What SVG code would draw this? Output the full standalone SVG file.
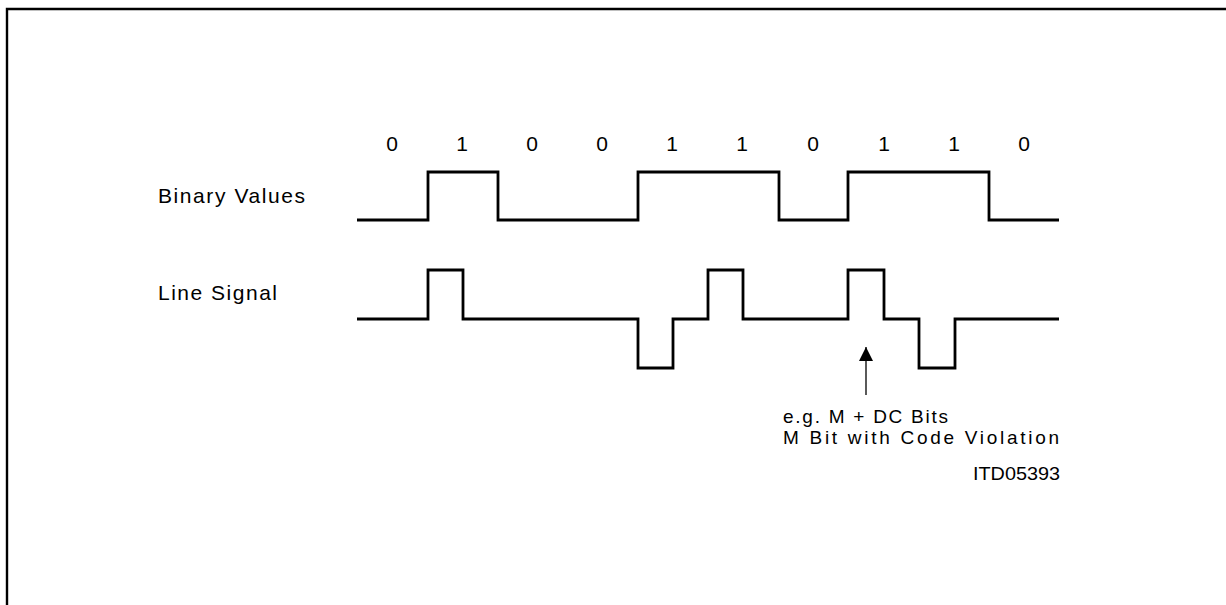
<svg xmlns="http://www.w3.org/2000/svg" width="1226" height="605" viewBox="0 0 1226 605">
<style>
.t{font-family:"Liberation Sans",Arial,sans-serif;font-size:21px;fill:#000}
.n{font-size:19px}
.d{text-anchor:middle}
.w{fill:none;stroke:#000;stroke-width:2.8;stroke-linejoin:miter;stroke-linecap:butt}
</style>
<defs>
<marker id="ah" viewBox="0 0 14 14" refX="14" refY="7" markerWidth="14" markerHeight="14" markerUnits="userSpaceOnUse" orient="auto">
<path d="M0,0 L14,7 L0,14 Z" fill="#000"/>
</marker>
</defs>
<rect width="1226" height="605" fill="#fff"/>
<path id="frame" d="M7,606 V9 H1227" fill="none" stroke="#000" stroke-width="2.4"/>
<g id="bits">
<text class="t d" x="392" y="151">0</text>
<text class="t d" x="462" y="151">1</text>
<text class="t d" x="532" y="151">0</text>
<text class="t d" x="602" y="151">0</text>
<text class="t d" x="672" y="151">1</text>
<text class="t d" x="742" y="151">1</text>
<text class="t d" x="813" y="151">0</text>
<text class="t d" x="884" y="151">1</text>
<text class="t d" x="954" y="151">1</text>
<text class="t d" x="1024" y="151">0</text>
</g>
<g id="binary">
<text class="t" x="158" y="203" textLength="147" lengthAdjust="spacing">Binary  Values</text>
<path class="w" d="M357,220 H428 V172 H498 V220 H638 V172 H779 V220 H848 V172 H989 V220 H1059"/>
</g>
<g id="line">
<text class="t" x="158" y="300" textLength="119" lengthAdjust="spacing">Line  Signal</text>
<path class="w" d="M357,319 H428 V270 H463 V319 H638 V368 H673 V319 H708 V270 H743 V319 H848 V270 H884 V319 H919 V368 H955 V319 H1059"/>
</g>
<g id="connectors">
<line x1="866" y1="395" x2="866" y2="347" stroke="#000" stroke-width="1.3" marker-end="url(#ah)"/>
</g>
<g id="note">
<text class="t n" x="783" y="423" textLength="165" lengthAdjust="spacing">e.g.  M + DC Bits</text>
<text class="t n" x="783" y="444" textLength="276" lengthAdjust="spacing">M Bit  with  Code  Violation</text>
<text class="t n" x="973" y="480" textLength="87" lengthAdjust="spacingAndGlyphs">ITD05393</text>
</g>
</svg>
